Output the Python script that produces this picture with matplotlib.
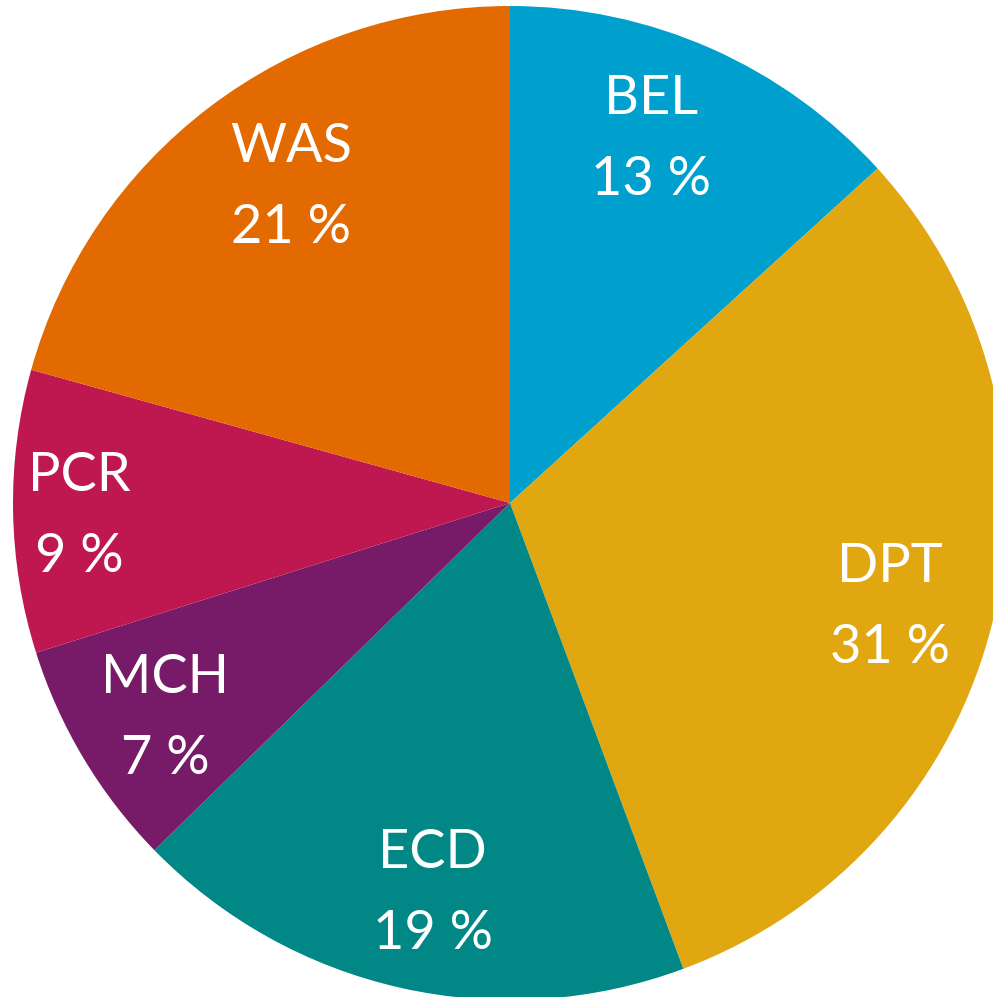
import matplotlib
matplotlib.use("Agg")
import matplotlib.pyplot as plt
import numpy as np

labels = ["BEL", "DPT", "ECD", "MCH", "PCR", "WAS"]
# wedge sizes as measured from the slice angles
shares = [13.25, 31.08, 18.36, 7.44, 9.19, 20.68]
# percentages as printed on the chart
shown_pct = [13, 31, 19, 7, 9, 21]
colors = ["#00A0CE", "#E0A711", "#008786", "#771B68", "#BF174F", "#E26A00"]
# label placement: fraction of radius and angle nudge (deg) from wedge middle
label_radius = [0.786, 0.793, 0.800, 0.818, 0.866, 0.774]
label_nudge = [2.65, -1.65, 1.45, 1.0, 0.75, -2.5]

plt.rcParams["font.family"] = ["Lato", "DejaVu Sans"]

fig = plt.figure(figsize=(9.93, 9.97), dpi=100)
ax = fig.add_axes([0, 0, 1, 1])

wedges, _ = ax.pie(shares, colors=colors, startangle=90, counterclock=False,
                   radius=1.0, wedgeprops=dict(linewidth=0))

for w, lab, p, r, d in zip(wedges, labels, shown_pct, label_radius, label_nudge):
    mid = np.deg2rad((w.theta1 + w.theta2) / 2 + d)
    ax.text(r * np.cos(mid), r * np.sin(mid), f"{lab}\n{p} %",
            ha="center", va="center", color="white", fontsize=39,
            linespacing=1.8)

scale = 497.0
cx, cy = 510.0, 503.0
ax.set_xlim(-cx / scale, (993 - cx) / scale)
ax.set_ylim(-(997 - cy) / scale, cy / scale)
ax.set_aspect("auto")
ax.axis("off")

fig.savefig("out.png", dpi=100)
